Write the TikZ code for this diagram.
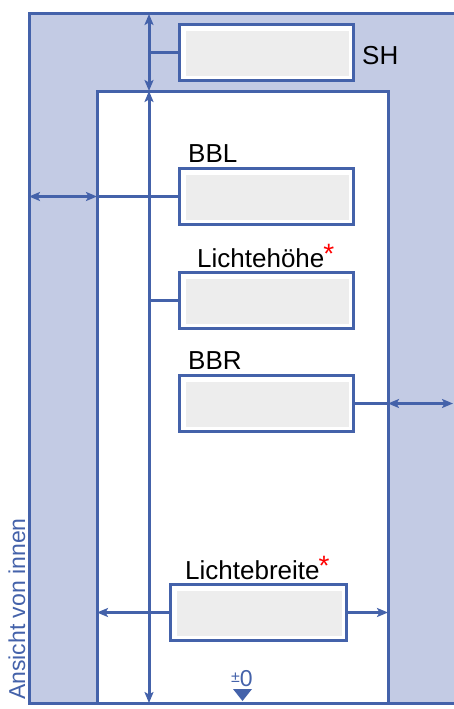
\documentclass[tikz,border=0pt]{standalone}
\usepackage{fontspec}
\setmainfont{Liberation Sans}
\usetikzlibrary{arrows.meta}
\definecolor{frameblue}{RGB}{68,98,170}
\definecolor{wallblue}{RGB}{195,203,228}
\definecolor{boxgray}{RGB}{237,237,237}
\newcommand\redstar{\kern-1pt\raisebox{4pt}{\textcolor{red}{\fontsize{28}{28}\selectfont *}}}
\begin{document}
\begin{tikzpicture}[x=1pt,y=-1pt,
  frame/.style={draw=frameblue,line width=3pt},
  tipb/.tip={Stealth[length=11pt,width=9pt,inset=2.5pt]},
  dim/.style={frame,tipb-tipb},
  dimr/.style={frame,-tipb},
  fieldbox/.style={draw=frameblue,line width=3pt,fill=white,
    minimum width=174pt,minimum height=56pt,inner sep=0pt,outer sep=0pt,
    path picture={\fill[boxgray] ([xshift=6.5pt,yshift=-6.5pt]path picture bounding box.north west)
      rectangle ([xshift=-4.5pt,yshift=4.5pt]path picture bounding box.south east);}},
  lbl/.style={anchor=base west,inner sep=0pt,font=\fontsize{26}{30}\selectfont}
]
\useasboundingbox (0,0) rectangle (454,709);
% wall and opening
\fill[wallblue] (29,14) rectangle (454,703);
\fill[white] (97,91) rectangle (388,703);
\draw[frame] (454,14) -- (29,14) -- (29,703) -- (454,703);
\draw[frame] (97,703) -- (97,91) -- (388,91) -- (388,703);
% coordinates
\coordinate (vtop) at (149,14);
\coordinate (vmid) at (149,91);
\coordinate (vbot) at (149,703);
\coordinate (vsh) at (149,52.5);
\coordinate (vlh) at (149,300.5);
\coordinate (oL) at (29,196.5);
\coordinate (bblL) at (97,196.5);
\coordinate (bbrR) at (388,403.5);
\coordinate (oR) at (453,403.5);
\coordinate (lbL) at (97,612.5);
\coordinate (lbR) at (388,612.5);
% boxes
\node[fieldbox] (sh) at (266.5,52.5) {};
\node[fieldbox] (bbl) at (266.5,196.5) {};
\node[fieldbox] (lh) at (266.5,300.5) {};
\node[fieldbox] (bbr) at (266.5,403.5) {};
\node[fieldbox,minimum width=176pt] (lb) at (258.5,612.5) {};
% connectors
\draw[dim] (vtop) -- (vmid);
\draw[dim] (vmid) -- (vbot);
\draw[frame] (vsh) -- (sh.west);
\draw[frame] (bblL) -- (bbl.west);
\draw[dim] (oL) -- (bblL);
\draw[frame] (vlh) -- (lh.west);
\draw[frame] (bbr.east) -- (bbrR);
\draw[dim] (bbrR) -- (oR);
\draw[dimr] (lb.west) -- (lbL);
\draw[dimr] (lb.east) -- (lbR);
% labels
\node[lbl] (tsh) at (362,65) {SH};
\node[lbl] (tbbl) at (188,162) {BBL};
\node[lbl] (tlh) at (197,267) {Lichtehöhe\redstar};
\node[lbl] (tbbr) at (188,369) {BBR};
\node[lbl] (tlb) at (185,579) {Lichtebreite\redstar};
\node[anchor=base west,inner sep=0pt,text=frameblue] (zero) at (231,686)
  {\raisebox{4pt}{\fontsize{16}{16}\selectfont ±}\fontsize{23}{23}\selectfont 0};
\fill[frameblue] (233,689) -- (252,689) -- (242.5,701) -- cycle;
\node[rotate=90,anchor=base west,inner sep=0pt,text=frameblue,font=\fontsize{23}{23}\selectfont] (view) at (25,700) {Ansicht von innen};
\end{tikzpicture}
\end{document}
